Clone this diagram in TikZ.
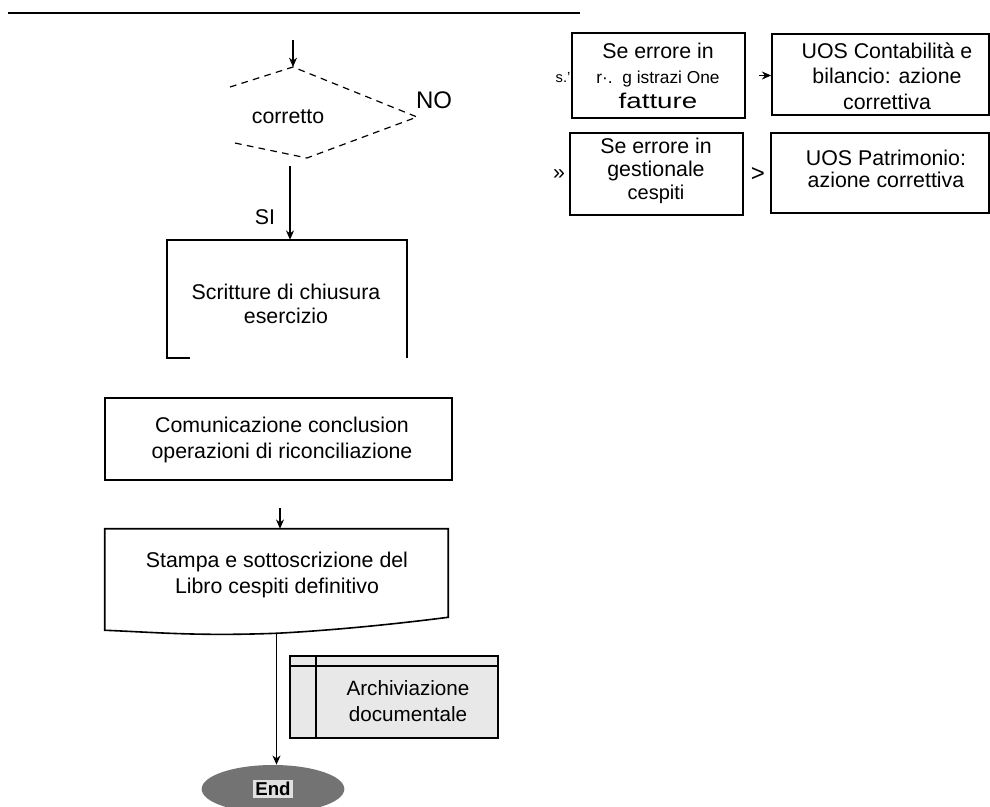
\documentclass[tikz,border=0pt]{standalone}
\usepackage{fontspec}
\setmainfont{Liberation Sans}
\usetikzlibrary{arrows.meta,shapes.geometric,fit,calc}
\begin{document}
\begin{tikzpicture}[x=0.75pt,y=-0.75pt,
  font=\fontsize{16}{19}\selectfont,
  edge/.style={line width=1.2pt},
  box/.style={draw,line width=1.2pt,inner sep=0pt},
  plain/.style={inner sep=0pt},
  txt/.style={align=center,inner sep=0pt},
  arr/.style={-{Stealth[length=7pt,width=6pt]},line width=0.8pt},
  dashdia/.style={dashed,dash pattern=on 5pt off 4pt,line width=0.9pt}]
\useasboundingbox (0,0) rectangle (990,807);
\fill[white] (0,0) rectangle (990,807);

% top rule
\draw[line width=1.5pt] (8,13) -- (580,13);

% decision
\coordinate (a0) at (293,40);
\coordinate (dtop) at (293,67);
\coordinate (dright) at (417,117);
\coordinate (dbot) at (307,158);
\draw[dashdia] (230,87) -- (dtop) -- (dright) -- (dbot) -- (230,142);
\node (corr) at (288,117) {corretto};
\node[font=\fontsize{18}{20}\selectfont] (no) at (434,100) {NO};
\draw[arr] (a0) -- (dtop);

% Scritture box (open bottom)
\node[plain,fit={(167,240)(407,358)}] (scr) {};
\node[txt,font=\fontsize{16}{18}\selectfont] (scrt) at (286,304) {Scritture di chiusura\\esercizio};
\draw[edge] ($(scr.south west)+(23,0)$) -- (scr.south west) -- (scr.north west)
  -- (scr.north east) -- (scr.south east);
\coordinate (dout) at (290,166);
\draw[arr] (dout) -- (dout |- scr.north);
\node[font=\fontsize{16}{18}\selectfont] (si) at (265,217) {SI};

% Comunicazione
\node[box,fit={(105,398)(452,480)}] (com) {};
\node[txt] (comt) at (282,440) {Comunicazione conclusion\\operazioni di riconciliazione};

% Stampa (document shape)
\node[plain,fit={(105,529)(448,617)}] (sta) {};
\node[txt] (stat) at (277,575) {Stampa e sottoscrizione del\\Libro cespiti definitivo};
\coordinate (sbot) at ($(sta.south)+(0,16)$);
\draw[edge] (sta.north west) -- (sta.north east) -- (sta.south east)
  .. controls ($(sta.south east)+(-70,9)$) and ($(sta.south)+(40,14)$) .. (sbot)
  .. controls ($(sta.south)+(-80,19)$) and ($(sta.south west)+(50,15)$) .. ($(sta.south west)+(0,13)$)
  -- cycle;
\coordinate (a3) at (280,508);
\draw[arr] (a3) -- (a3 |- sta.north);

% Archiviazione
\node[box,fill=black!9,fit={(290,656)(498,738)}] (arc) {};
\draw[edge] ($(arc.north west)+(27,0)$) -- ($(arc.south west)+(27,0)$);
\draw[edge] ($(arc.north west)+(0,11)$) -- ($(arc.north east)+(0,11)$);
\node[txt,font=\fontsize{15.5}{20}\selectfont] (arctxt) at (408,701) {Archiviazione\\documentale};

% End terminator
\node[ellipse,fill=black!55,inner sep=0pt,minimum width=107pt,minimum height=36pt] (end) at (273,789) {};
\node[fill=black!12,inner sep=1.5pt,font=\fontsize{14}{16}\selectfont\bfseries] (endtxt) at (end) {End};
\draw[arr] (sbot) -- (sbot |- end.north);

% right side
\node[box,fit={(572,33)(745,118)}] (b1) {};
\node[txt] (b1t) at (658,76) {Se errore in\\{\fontsize{13}{19}\selectfont r·.\ \ g istrazi One}\\\scalebox{1.3}[1]{fatture}};
\node[box,fit={(772,34)(989,115)}] (b2) {};
\node[txt] (b2t) at (887,76) {UOS Contabilità e\\bilancio: azione\\correttiva};
\node[box,fit={(570,133)(743,215)}] (b3) {};
\node[txt,font=\fontsize{16}{17.5}\selectfont] (b3t) at (656,171) {Se errore in\\gestionale\\{\fontsize{15}{17.5}\selectfont cespiti}};
\node[box,fit={(771,133)(989,213)}] (b4) {};
\node[txt,font=\fontsize{16}{17}\selectfont] (b4t) at (886,169) {UOS Patrimonio:\\azione correttiva};
\node[font=\fontsize{11}{13}\selectfont] (s1) at (563,78) {s.'};
\node (g1) at (559,175) {»};
\node[font=\fontsize{18}{20}\selectfont] (g2) at (758,175) {>};
\draw[arr,shorten <=10pt] (b1.east) -- (b1.east -| b2.west);
\end{tikzpicture}
\end{document}
